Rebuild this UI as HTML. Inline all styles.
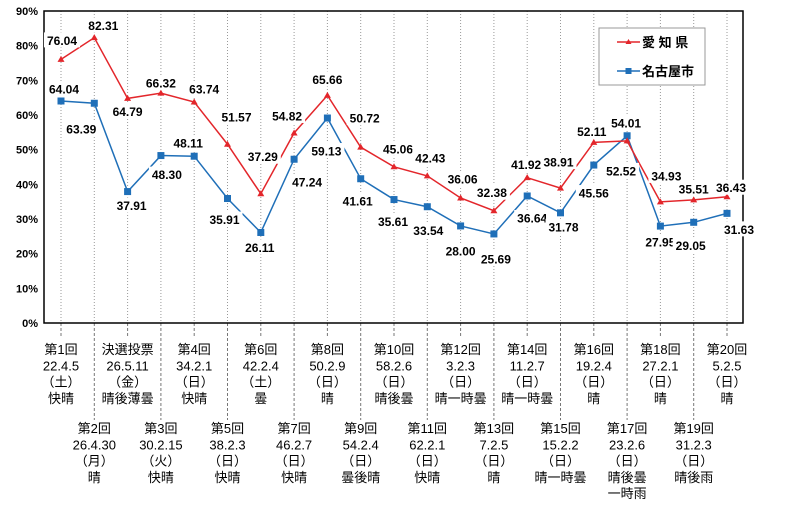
<!DOCTYPE html>
<html><head><meta charset="utf-8"><style>
html,body{margin:0;padding:0;background:#fff;}
svg{display:block;font-family:"Liberation Sans","Noto Sans CJK JP",sans-serif;}
</style></head><body>
<svg id="chart" width="790" height="507" viewBox="0 0 790 507" xmlns="http://www.w3.org/2000/svg"></svg>
<script>
const yTicks = [0,10,20,30,40,50,60,70,80,90];
const categories = [
 ["第1回","22.4.5","（土）","快晴"],
 ["第2回","26.4.30","（月）","晴"],
 ["決選投票","26.5.11","（金）","晴後薄曇"],
 ["第3回","30.2.15","（火）","快晴"],
 ["第4回","34.2.1","（日）","快晴"],
 ["第5回","38.2.3","（日）","快晴"],
 ["第6回","42.2.4","（土）","曇"],
 ["第7回","46.2.7","（日）","快晴"],
 ["第8回","50.2.9","（日）","晴"],
 ["第9回","54.2.4","（日）","曇後晴"],
 ["第10回","58.2.6","（日）","晴後曇"],
 ["第11回","62.2.1","（日）","快晴"],
 ["第12回","3.2.3","（日）","晴一時曇"],
 ["第13回","7.2.5","（日）","晴"],
 ["第14回","11.2.7","（日）","晴一時曇"],
 ["第15回","15.2.2","（日）","晴一時曇"],
 ["第16回","19.2.4","（日）","晴"],
 ["第17回","23.2.6","（日）","晴後曇","一時雨"],
 ["第18回","27.2.1","（日）","晴"],
 ["第19回","31.2.3","（日）","晴後雨"],
 ["第20回","5.2.5","（日）","晴"]
];
const aichiValues = [76.04,82.31,64.79,66.32,63.74,51.57,37.29,54.82,65.66,50.72,45.06,42.43,36.06,32.38,41.92,38.91,52.11,52.52,34.93,35.51,36.43];
const nagoyaValues = [64.04,63.39,37.91,48.30,48.11,35.91,26.11,47.24,59.13,41.61,35.61,33.54,28.00,25.69,36.64,31.78,45.56,54.01,27.95,29.05,31.63];
const aichiLabelText = ["76.04","82.31","64.79","66.32","63.74","51.57","37.29","54.82","65.66","50.72","45.06","42.43","36.06","32.38","41.92","38.91","52.11","52.52","34.93","35.51","36.43"];
const nagoyaLabelText = ["64.04","63.39","37.91","48.30","48.11","35.91","26.11","47.24","59.13","41.61","35.61","33.54","28.00","25.69","36.64","31.78","45.56","54.01","27.95","29.05","31.63"];
// label offsets (styling, relative to point)
const aOff = [[1,-19],[9,-12],[0,13],[0,-10],[10,-13],[9,-27],[2,-37],[-7,-17],[0,-16],[4,-29],[4,-18],[3,-18],[2,-19],[-2,-18],[-1,-13],[-2,-26],[-2,-11],[-6,30],[6,-26],[0,-11],[4,-9]];
const bOff = [[3,-12],[-13,26],[4,14],[6,19],[-6,-13],[-3,21],[-1,15],[13,23],[-1,33],[-3,22],[-1,22],[1,24],[0,25],[2,25],[5,22],[3,14],[0,28],[-1,-13],[0,16],[-3,23],[12,16]];

const svg = document.getElementById('chart');
const NS = 'http://www.w3.org/2000/svg';
const L=44,R=743,T=11,B=323;
const x0=61, dx=33.3;
const xPos = i => x0 + i*dx;
const yPos = v => B - (v/90)*(B-T);
function mk(tag, attrs, parent){const e=document.createElementNS(NS,tag);for(const k in attrs)e.setAttribute(k,attrs[k]);(parent||svg).appendChild(e);return e;}

// y-axis ticks
yTicks.forEach(t=>{
  const y=yPos(t);
  const tx=mk('text',{x:38,y:y+4,'text-anchor':'end','font-size':'11','font-weight':'bold',fill:'#000'});
  
  
  tx.textContent=t+'%';
});
// vertical dotted gridlines + category connectors + labels
categories.forEach((c,i)=>{
  const x=xPos(i);
  const g=mk('line',{x1:x,x2:x,y1:T,y2:B,stroke:'#999','stroke-width':1,'stroke-dasharray':'1,2'});
  
  
  const top = i%2===0;
  const d=mk('line',{x1:x,x2:x,y1:B,y2:top?338:420,stroke:'#777','stroke-width':1,'stroke-dasharray':'3,2'});
  
  
  const base = top?354:433;
  c.forEach((s,k)=>{
    const t=mk('text',{x:x,y:base+k*16.3,'text-anchor':'middle','font-size':'13',fill:'#000'});
    
    
    t.textContent=s;
  });
});
// plot frame
const fr=mk('rect',{x:L,y:T,width:R-L,height:B-T,fill:'none',stroke:'#000','stroke-width':1.5});



function series(vals, color, marker, name){
  const pts=vals.map((v,i)=>xPos(i)+','+yPos(v)).join(' ');
  const pl=mk('polyline',{points:pts,fill:'none',stroke:color,'stroke-width':1.5});
  
  
  vals.forEach((v,i)=>{
    const x=xPos(i),y=yPos(v);
    let m;
    if(marker==='sq') m=mk('rect',{x:x-3.5,y:y-3.5,width:7,height:7,fill:color});
    else m=mk('polygon',{points:`${x},${y-3.5} ${x+3.5},${y+2.5} ${x-3.5},${y+2.5}`,fill:color});
    
    
  });
}
series(nagoyaValues,'#1f6fb8','sq','nagoya');
series(aichiValues,'#e3262b','tri','aichi');

function labels(vals, texts, off, name){
  vals.forEach((v,i)=>{
    const x=xPos(i)+off[i][0], y=yPos(v)+off[i][1];
    const bg=mk('rect',{x:x-18,y:y-8,width:36,height:15,fill:'#fff'});
    
    
    const t=mk('text',{x:x,y:y+4.5,'text-anchor':'middle','font-size':'12','font-weight':'bold',fill:'#000'});
    
    
    t.textContent=texts[i];
  });
}
labels(aichiValues,aichiLabelText,aOff,'aichi');
labels(nagoyaValues,nagoyaLabelText,bOff,'nagoya');

// legend
const lg=mk('rect',{x:599,y:28,width:106,height:57,fill:'#fff',stroke:'#999','stroke-width':1});


[['愛 知 県','#e3262b',42,'tri'],['名古屋市','#1f6fb8',71,'sq']].forEach(([txt,col,y,mkType])=>{
  const l=mk('line',{x1:617,x2:640,y1:y,y2:y,stroke:col,'stroke-width':1.5});
  
  
  const m = mkType==='sq'?mk('rect',{x:625.5,y:y-3,width:6,height:6,fill:col}):mk('polygon',{points:`628.5,${y-3} 631.5,${y+2} 625.5,${y+2}`,fill:col});
  
  
  const t=mk('text',{x:642,y:y+5,'font-size':'13','font-weight':'bold',fill:'#000'});
  
  
  t.textContent=txt;
});
</script>
</body></html>
